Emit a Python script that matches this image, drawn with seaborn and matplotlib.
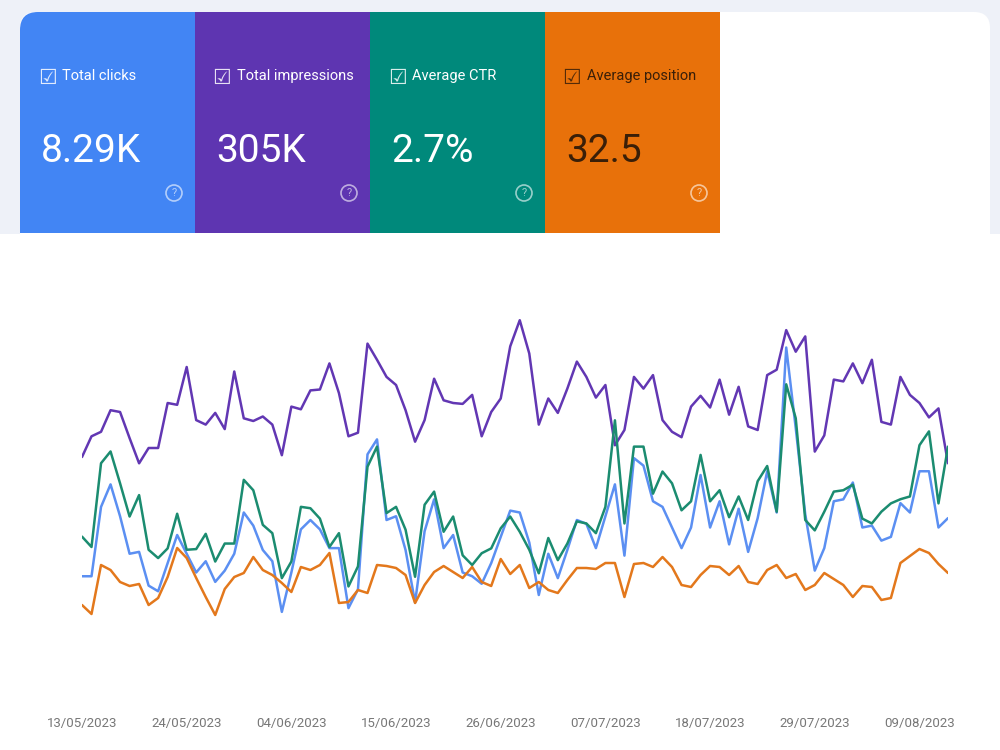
import pandas as pd
import matplotlib.pyplot as plt
from matplotlib.patches import FancyBboxPatch, Rectangle, Circle
import seaborn as sns

sns.set_theme(style="white")
plt.rcParams["font.family"] = ["Roboto", "DejaVu Sans"]

# --- data (daily, 13/05/2023 .. 12/08/2023) ---
dates = pd.date_range("2023-05-13", periods=92, freq="D")

clicks = [66, 66, 103, 115, 98, 78, 79, 61, 58, 73, 88, 78, 68, 74, 63, 69,
          78, 100, 93, 80, 74, 47, 68, 91, 96, 91, 81, 81, 49, 59, 131, 139,
          96, 98, 80, 52, 90, 107, 81, 88, 68, 66, 62, 73, 87, 101, 100, 84,
          56, 78, 65, 80, 96, 94, 81, 98, 115, 77, 129, 125, 106, 103, 92, 81,
          92, 120, 92, 106, 83, 102, 79, 97, 122, 100, 188, 145, 99, 69, 81, 106,
          107, 116, 92, 93, 85, 87, 105, 100, 122, 122, 92, 97]

impressions = [2700, 2930, 2980, 3220, 3200, 2910, 2630, 2800, 2800, 3300, 3280, 3700,
               3110, 3060, 3190, 3010, 3650, 3130, 3100, 3150, 3060, 2720, 3260, 3230,
               3440, 3450, 3740, 3410, 2930, 2970, 3960, 3780, 3590, 3500, 3220, 2870,
               3110, 3570, 3330, 3300, 3290, 3390, 2930, 3200, 3350, 3930, 4220, 3850,
               3060, 3350, 3190, 3460, 3760, 3590, 3360, 3500, 2830, 3000, 3590, 3460,
               3610, 3110, 2980, 2920, 3260, 3380, 3250, 3560, 3170, 3480, 3040, 3000,
               3610, 3670, 4110, 3870, 4040, 2760, 2940, 3560, 3540, 3740, 3520, 3780,
               3090, 3060, 3590, 3390, 3300, 3140, 3240, 2630]

ctr = [2.36, 2.21, 3.42, 3.59, 3.13, 2.65, 2.96, 2.17, 2.05, 2.19, 2.69, 2.17,
       2.18, 2.40, 2.00, 2.26, 2.26, 3.18, 3.03, 2.53, 2.41, 1.76, 2.00, 2.79,
       2.77, 2.62, 2.21, 2.41, 1.64, 1.93, 3.37, 3.66, 2.70, 2.79, 2.46, 1.78,
       2.82, 3.01, 2.43, 2.65, 2.09, 1.95, 2.12, 2.19, 2.48, 2.65, 2.43, 2.17,
       1.83, 2.34, 2.02, 2.26, 2.58, 2.55, 2.41, 2.79, 4.04, 2.55, 3.66, 3.66,
       2.98, 3.30, 3.13, 2.74, 2.87, 3.54, 2.87, 3.03, 2.64, 2.94, 2.60, 3.16,
       3.38, 2.72, 4.56, 4.07, 2.60, 2.45, 2.72, 3.01, 3.03, 3.11, 2.62, 2.55,
       2.72, 2.84, 2.90, 2.94, 3.68, 3.88, 2.84, 3.66]

position = [35.5, 36.4, 31.5, 32.0, 33.2, 33.6, 33.4, 35.5, 34.8, 32.7, 29.8, 30.8,
            32.8, 34.7, 36.5, 33.9, 32.7, 32.3, 30.7, 32.0, 32.5, 33.3, 34.2, 31.7,
            32.0, 31.5, 30.3, 35.3, 35.2, 34.0, 34.3, 31.5, 31.6, 31.8, 32.5, 35.3,
            33.5, 32.2, 31.6, 32.2, 32.8, 31.7, 33.2, 33.6, 30.9, 32.4, 31.5, 33.8,
            33.2, 34.0, 34.3, 33.0, 31.8, 31.8, 31.9, 31.3, 31.3, 34.7, 31.4, 31.3,
            31.7, 30.7, 31.7, 33.5, 33.7, 32.5, 31.6, 31.7, 32.5, 31.6, 33.2, 33.4,
            32.0, 31.5, 32.8, 32.4, 34.0, 33.5, 32.3, 32.9, 33.5, 34.7, 33.6, 33.7,
            35.0, 34.8, 31.3, 30.6, 29.9, 30.3, 31.4, 32.3]

card_titles = ["Total clicks", "Total impressions", "Average CTR", "Average position"]
card_values = ["8.29K", "305K", "2.7%", "32.5"]
card_colors = ["#4285f4", "#5e35b1", "#00897b", "#e8710a"]
card_text_colors = ["white", "white", "white", "#3a1f08"]
line_colors = ["#5b8ff2", "#6237b3", "#1b8c70", "#e3781c"]
tick_dates = pd.date_range("2023-05-13", periods=9, freq="11D")

fig = plt.figure(figsize=(10, 7.5), dpi=100)

# background layer in pixel coordinates
bg = fig.add_axes([0, 0, 1, 1], zorder=0)
bg.set_xlim(0, 1000)
bg.set_ylim(750, 0)
bg.axis("off")
bg.add_patch(Rectangle((0, 0), 1000, 234, fc="#eef1f8", ec="none"))
bg.add_patch(FancyBboxPatch((20, 12), 970, 760, boxstyle="round,pad=0,rounding_size=16",
                            fc="white", ec="none"))

# metric cards
card_w = 175
for k, (title, val, col, tc) in enumerate(zip(card_titles, card_values, card_colors, card_text_colors)):
    x0 = 20 + k * card_w
    if k == 0:
        bg.add_patch(FancyBboxPatch((x0, 12), card_w, 221, boxstyle="round,pad=0,rounding_size=18",
                                    fc=col, ec="none"))
        bg.add_patch(Rectangle((x0 + 30, 12), card_w - 30, 221, fc=col, ec="none"))
        bg.add_patch(Rectangle((x0, 45), card_w, 188, fc=col, ec="none"))
    else:
        bg.add_patch(Rectangle((x0, 12), card_w, 221, fc=col, ec="none"))
    bg.text(x0 + 27, 78, "\u2611", fontsize=15, color=tc, ha="center", va="center",
            family="DejaVu Sans", alpha=0.85)
    bg.text(x0 + 42, 76, title, fontsize=10.5, color=tc, va="center")
    bg.text(x0 + 21, 151, val, fontsize=28, color=tc, va="center")
    bg.add_patch(Circle((x0 + 154, 193), 8, fc="none", ec="white", lw=1.2, alpha=0.6))
    bg.text(x0 + 154, 193.5, "?", fontsize=8, color="white", ha="center", va="center", alpha=0.6)

# chart: every metric has its own hidden y scale
ax = fig.add_axes([0.082, 1 - 700 / 750, 0.866, 0.6], zorder=1)
ax.patch.set_alpha(0)
axes = [ax] + [ax.twinx() for _ in range(3)]
series = [clicks, impressions, ctr, position]
limits = [(0, 240), (0, 5000), (0, 6.5), (45, 0)]

for a, vals, col, lim in zip(axes, series, line_colors, limits):
    sns.lineplot(x=dates, y=vals, ax=a, color=col, linewidth=1.8)
    a.set_ylim(*lim)
    a.set_yticks([])
    a.set_ylabel("")
    for s in a.spines.values():
        s.set_visible(False)

ax.set_xlim(dates[0], dates[-1])
ax.set_xticks(tick_dates)
ax.set_xticklabels([d.strftime("%d/%m/%Y") for d in tick_dates])
ax.tick_params(axis="x", length=0, pad=12, labelsize=9.5, labelcolor="#777777")
ax.set_xlabel("")

fig.savefig("out.png", dpi=100)
